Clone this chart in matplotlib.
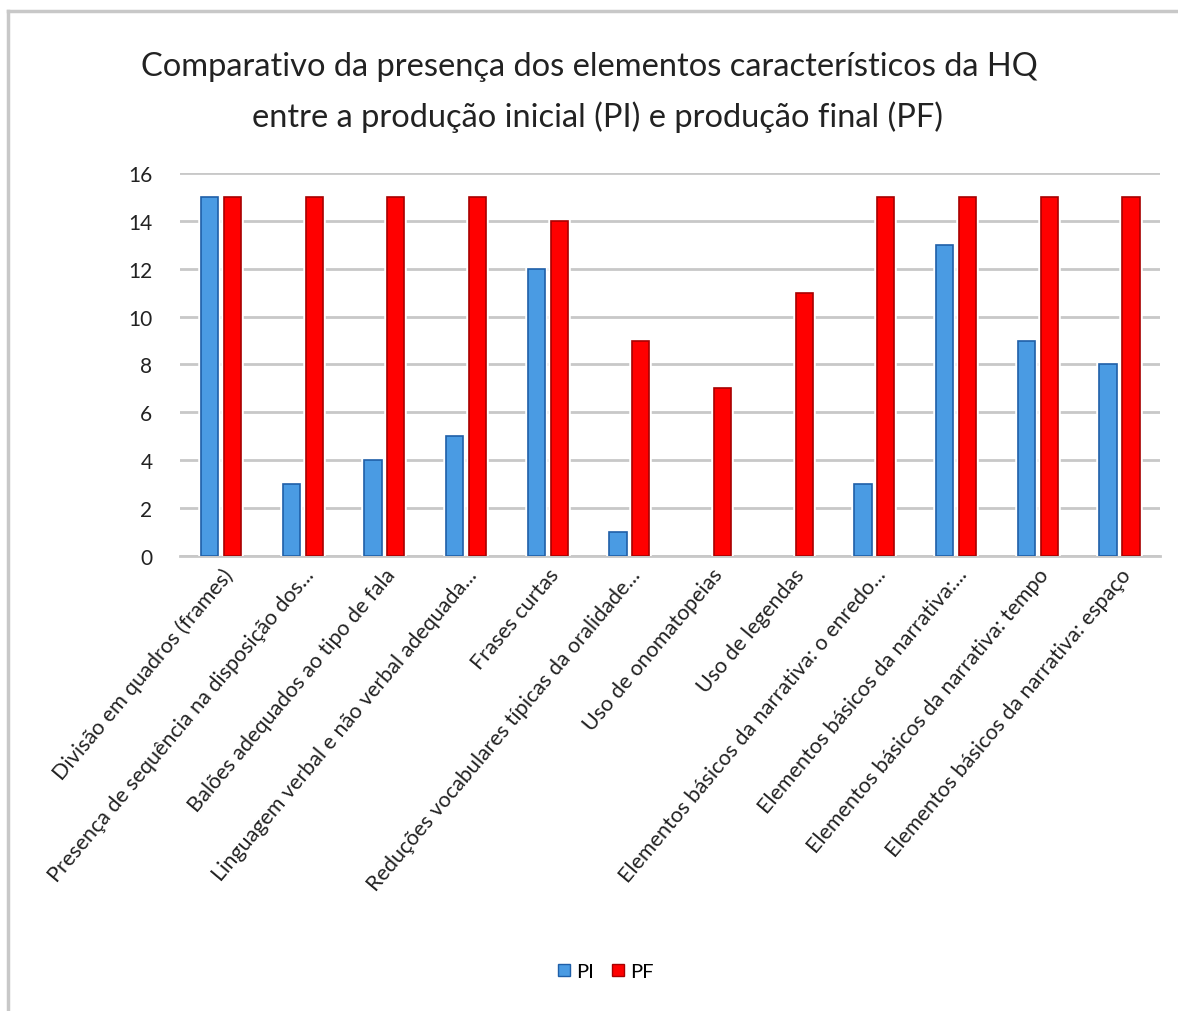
import matplotlib.pyplot as plt
import matplotlib.patheffects as pe
from matplotlib.lines import Line2D
import numpy as np

plt.rcParams['font.family'] = ['Lato', 'DejaVu Sans']

# elementos avaliados e contagens por produção
categorias = [
    "Divisão em quadros (frames)",
    "Presença de sequência na disposição dos...",
    "Balões adequados ao tipo de fala",
    "Linguagem verbal e não verbal adequada...",
    "Frases curtas",
    "Reduções vocabulares típicas da oralidade...",
    "Uso de onomatopeias",
    "Uso de legendas",
    "Elementos básicos da narrativa: o enredo...",
    "Elementos básicos da narrativa:...",
    "Elementos básicos da narrativa: tempo",
    "Elementos básicos da narrativa: espaço",
]
pi = [15, 3, 4, 5, 12, 1, 0, 0, 3, 13, 9, 8]
pf = [15, 15, 15, 15, 14, 9, 7, 11, 15, 15, 15, 15]

fig = plt.figure(figsize=(11.78, 10.12), dpi=100)
ax = fig.add_axes([0.153, 0.4496, 0.832, 0.3785])

x = np.arange(len(categorias))
w = 0.21
halo = [pe.withStroke(linewidth=4, foreground='white')]
b1 = ax.bar(x - 0.14, pi, w, color='#4a9be3', edgecolor='#1f5fa8', linewidth=1.2, zorder=3)
b2 = ax.bar(x + 0.14, pf, w, color='#ff0000', edgecolor='#a80000', linewidth=1.2, zorder=3)
for b in list(b1) + list(b2):
    if b.get_height() > 0:
        b.set_path_effects(halo)
    else:
        b.set_visible(False)

ax.set_xlim(-0.5, len(categorias) - 0.5)
ax.set_ylim(0, 16)
ax.set_yticks(range(0, 17, 2))
ax.yaxis.grid(True, color='#c8c8c8', linewidth=2, zorder=0)
ax.set_axisbelow(True)
for s in ['top', 'right', 'left']:
    ax.spines[s].set_visible(False)
ax.spines['bottom'].set_color('#c8c8c8')
ax.spines['bottom'].set_linewidth(2)
ax.tick_params(axis='both', length=0, labelsize=15, colors='#222222')
ax.tick_params(axis='y', pad=20)
ax.tick_params(axis='x', pad=6)
ax.set_xticks(x)
ax.set_xticklabels(categorias, rotation=50, ha='right', rotation_mode='anchor', fontsize=15.5)

fig.text(0.5, 0.934, "Comparativo da presença dos elementos característicos da HQ",
         ha='center', va='center', fontsize=23.5, color='#222222')
fig.text(0.507, 0.884, "entre a produção inicial (PI) e produção final (PF)",
         ha='center', va='center', fontsize=23.5, color='#222222')

handles = [
    Line2D([], [], marker='s', linestyle='', markersize=8, markerfacecolor='#4a9be3', markeredgecolor='#1f5fa8'),
    Line2D([], [], marker='s', linestyle='', markersize=8, markerfacecolor='#ff0000', markeredgecolor='#a80000'),
]
fig.legend(handles, ['PI', 'PF'], loc='center', bbox_to_anchor=(0.512, 0.039), ncol=2,
           frameon=False, fontsize=14.5, handletextpad=0.0, columnspacing=0.6, handlelength=1.2)

# moldura cinza da área do gráfico
fig.add_artist(Line2D([8 / 1178, 1.0], [1 - 12 / 1012, 1 - 12 / 1012], color='#c8c8c8', linewidth=2.5))
fig.add_artist(Line2D([8 / 1178, 8 / 1178], [0.0, 1 - 12 / 1012], color='#c8c8c8', linewidth=2.5))

fig.savefig('out.png', dpi=100, facecolor='white')
